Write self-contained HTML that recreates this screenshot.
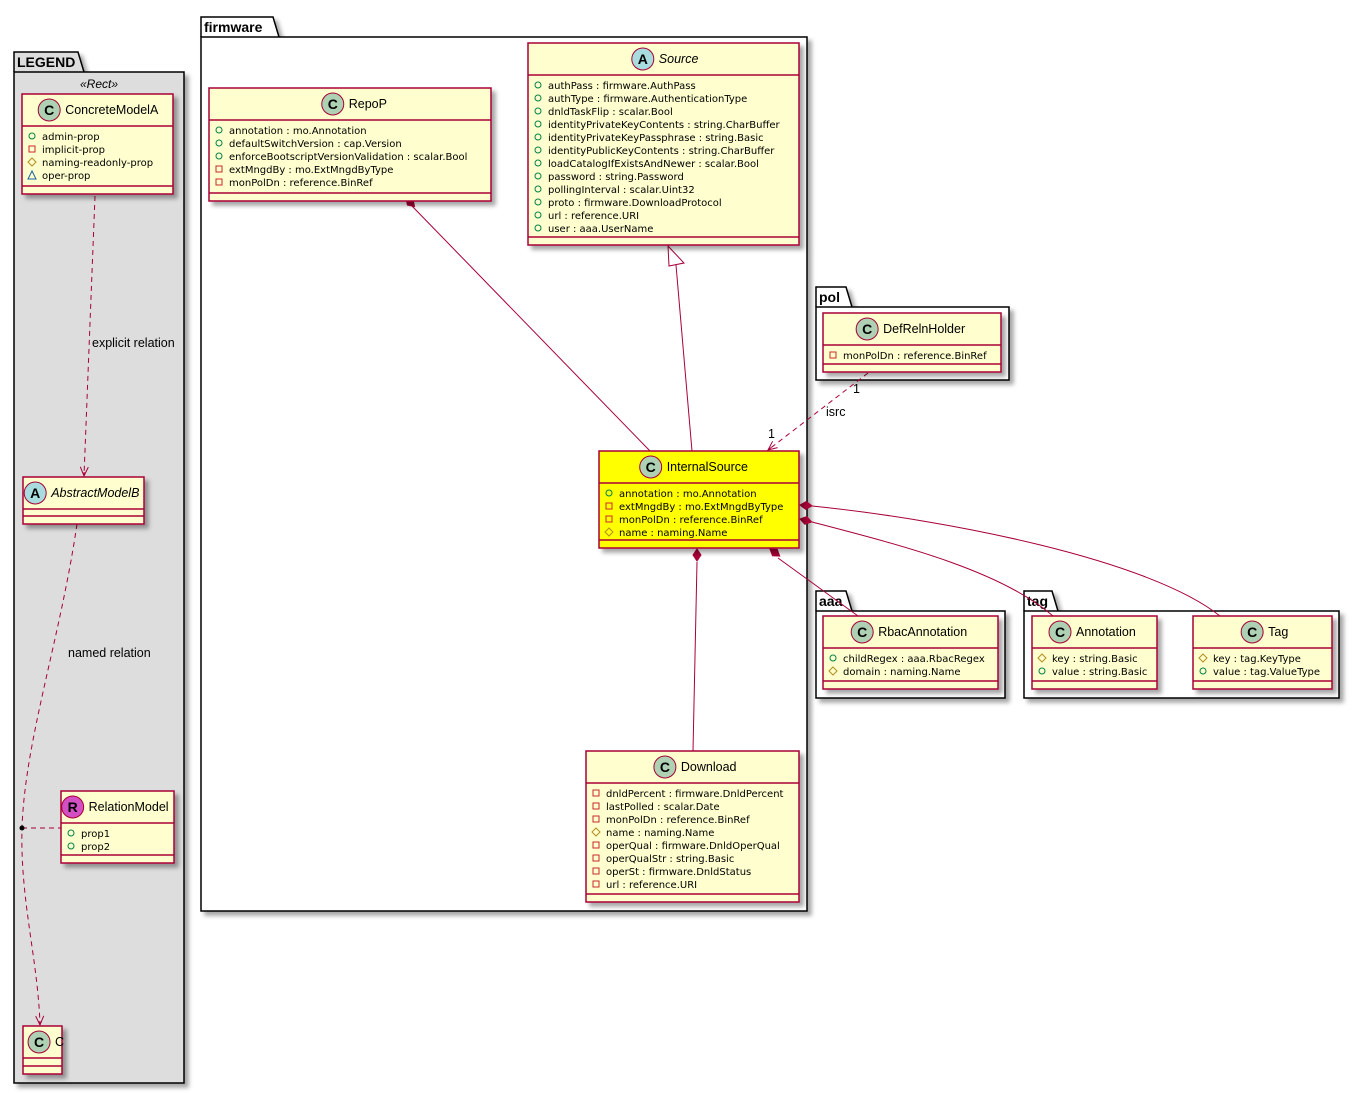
<!DOCTYPE html>
<html><head><meta charset="utf-8"><style>
html,body{margin:0;padding:0;background:#fff}
svg{display:block;font-family:"Liberation Sans","DejaVu Sans",sans-serif}
</style></head><body>
<svg id="s" width="1360" height="1093" xmlns="http://www.w3.org/2000/svg">
<defs>
<filter id="sh" x="-10%" y="-10%" width="130%" height="130%"><feDropShadow dx="4" dy="4" stdDeviation="2" flood-color="#000" flood-opacity="0.35"/></filter>
</defs>
<g id="pk"></g>
<g id="ln" fill="none" stroke="#a80036" stroke-width="1"></g>
<g id="cl"></g>
</svg>
<script>
const NS="http://www.w3.org/2000/svg";
function el(p,t,a,txt){const e=document.createElementNS(NS,t);for(const k in a)e.setAttribute(k,a[k]);if(txt!=null)e.textContent=txt;document.getElementById(p).appendChild(e);return e;}
function pkg(x,y,w,h,name,tw,fill){
  el('pk','path',{d:`M${x},${y+20} L${x},${y} L${x+tw},${y} L${x+tw+6},${y+20}`,fill:fill,stroke:'#000','stroke-width':1.5,filter:'url(#sh)'});
  el('pk','rect',{x:x,y:y+20,width:w,height:h-20,fill:fill,stroke:'#000','stroke-width':1.5,filter:'url(#sh)'});
  el('pk','text',{x:x+3,y:y+15,'font-size':14,'font-weight':'bold'},name);
}
const vis={'+':['circle','#038048'],'-':['rect','#c82930'],'#':['diam','#b38d22'],'~':['tri','#1963a0']};
function cls(x,y,w,h,name,attrs,o={}){
  const fill=o.fill||'#fefece';
  el('cl','rect',{x:x,y:y,width:w,height:h,fill:fill,stroke:'#a80036','stroke-width':1.5,filter:'url(#sh)'});
  const hh=32;
  el('cl','line',{x1:x,y1:y+hh,x2:x+w,y2:y+hh,stroke:'#a80036','stroke-width':1.5});
  el('cl','line',{x1:x,y1:y+h-8,x2:x+w,y2:y+h-8,stroke:'#a80036','stroke-width':1.5});
  const tw=name.length*6.9;const cx=x+w/2-(tw+22)/2+11;
  el('cl','circle',{cx:cx,cy:y+16,r:11,fill:o.cf||'#add1b2',stroke:'#a80036','stroke-width':1});
  el('cl','text',{x:cx,y:y+21,'font-size':14,'font-weight':'bold','text-anchor':'middle'},o.l||'C');
  el('cl','text',{x:cx+16,y:y+20,'font-size':12.5,'font-style':o.it?'italic':'normal'},name);
  attrs.forEach((a,i)=>{
    const yy=y+hh+14+i*13, v=vis[a[0]], ix=x+10;
    if(v[0]=='circle')el('cl','circle',{cx:ix,cy:yy-4,r:3,fill:'none',stroke:v[1]});
    if(v[0]=='rect')el('cl','rect',{x:ix-3,y:yy-7,width:6,height:6,fill:'none',stroke:v[1]});
    if(v[0]=='diam')el('cl','path',{d:`M${ix},${yy-8} L${ix+4},${yy-4} L${ix},${yy} L${ix-4},${yy-4}Z`,fill:'none',stroke:v[1]});
    if(v[0]=='tri')el('cl','path',{d:`M${ix},${yy-8} L${ix+4},${yy} L${ix-4},${yy}Z`,fill:'none',stroke:v[1]});
    el('cl','text',{x:x+20,y:yy,'font-size':10,'font-family':'"DejaVu Sans",sans-serif'},a.slice(1));
  });
}
function ln(d,dash){el('ln','path',{d:d,'stroke-dasharray':dash?'5,4':'none'});}
function diamond(x,y,ang){el('ln','path',{d:'M0,0 L6,-4 L12,0 L6,4Z',fill:'#a80036',transform:`translate(${x},${y}) rotate(${ang})`});}
function arrow(x,y,ang){el('ln','path',{d:'M-9,-4 L0,0 L-9,4 M0,0 L-4,0',transform:`translate(${x},${y}) rotate(${ang})`});}
function txt(x,y,s){el('cl','text',{x:x,y:y,'font-size':12.5},s);}

pkg(14,52,170,1031,'LEGEND',64,'#dddddd');
el('pk','text',{x:99,y:88,'font-size':12,'font-style':'italic','text-anchor':'middle'},'«Rect»');
pkg(201,17,606,894,'firmware',72,'#ffffff');
pkg(816,287,193,93,'pol',30,'#ffffff');
pkg(816,591,189,107,'aaa',30,'#ffffff');
pkg(1024,591,315,107,'tag',28,'#ffffff');

ln('M95,196 L84,476',1);arrow(84,476,92);
txt(92,347,'explicit relation');
ln('M77,524 C60,640 25,740 22,828 C20,900 38,960 40,1025',1);arrow(40,1025,88);
txt(68,657,'named relation');
ln('M22,828 L61,828',1);el('ln','circle',{cx:22,cy:828,r:2,fill:'#000',stroke:'#000'});
ln('M412,206 L650,451');diamond(406,198,45);
ln('M676,265 L692,451');
el('ln','path',{d:'M668,246 L684,263 L669,266 Z',fill:'#fff',stroke:'#a80036'});
ln('M868,373 L768,450',1);arrow(768,450,142);
txt(853,393,'1');txt(826,416,'isrc');txt(768,438,'1');
ln('M697,562 L693,751');diamond(697,549,90);
ln('M778,558 L858,616');diamond(770,549,36);
ln('M812,522 C900,545 1000,570 1053,616');diamond(800,519,14);
ln('M812,506 C950,520 1150,560 1220,616');diamond(800,505,4);

cls(22,94,151,100,'ConcreteModelA',['+admin-prop','-implicit-prop','#naming-readonly-prop','~oper-prop']);
cls(23,477,121,47,'AbstractModelB',[],{l:'A',cf:'#a9dcdf',it:1});
cls(61,791,113,72,'RelationModel',['+prop1','+prop2'],{l:'R',cf:'#d24fc4'});
cls(23,1026,39,48,'C',[]);
cls(209,88,282,113,'RepoP',['+annotation : mo.Annotation','+defaultSwitchVersion : cap.Version','+enforceBootscriptVersionValidation : scalar.Bool','-extMngdBy : mo.ExtMngdByType','-monPolDn : reference.BinRef']);
cls(528,43,271,202,'Source',['+authPass : firmware.AuthPass','+authType : firmware.AuthenticationType','+dnldTaskFlip : scalar.Bool','+identityPrivateKeyContents : string.CharBuffer','+identityPrivateKeyPassphrase : string.Basic','+identityPublicKeyContents : string.CharBuffer','+loadCatalogIfExistsAndNewer : scalar.Bool','+password : string.Password','+pollingInterval : scalar.Uint32','+proto : firmware.DownloadProtocol','+url : reference.URI','+user : aaa.UserName'],{l:'A',cf:'#a9dcdf',it:1});
cls(599,451,200,97,'InternalSource',['+annotation : mo.Annotation','-extMngdBy : mo.ExtMngdByType','-monPolDn : reference.BinRef','#name : naming.Name'],{fill:'#ffff00'});
cls(586,751,213,151,'Download',['-dnldPercent : firmware.DnldPercent','-lastPolled : scalar.Date','-monPolDn : reference.BinRef','#name : naming.Name','-operQual : firmware.DnldOperQual','-operQualStr : string.Basic','-operSt : firmware.DnldStatus','-url : reference.URI']);
cls(823,313,178,59,'DefRelnHolder',['-monPolDn : reference.BinRef']);
cls(823,616,175,73,'RbacAnnotation',['+childRegex : aaa.RbacRegex','#domain : naming.Name']);
cls(1032,616,125,73,'Annotation',['#key : string.Basic','+value : string.Basic']);
cls(1193,616,139,73,'Tag',['#key : tag.KeyType','+value : tag.ValueType']);
</script>
</body></html>
